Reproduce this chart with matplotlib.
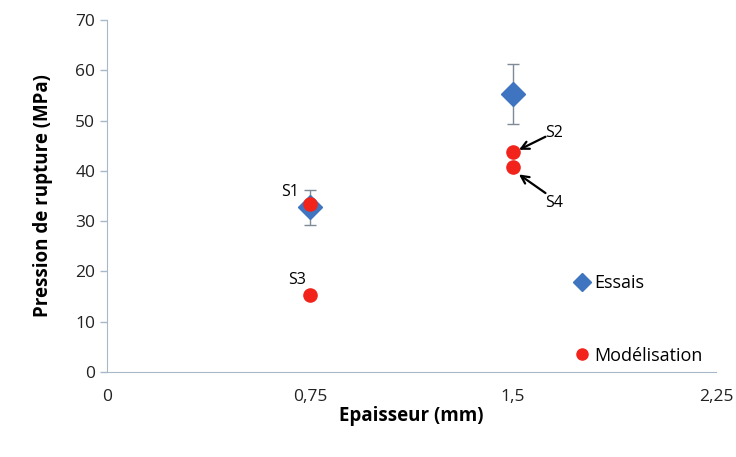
import matplotlib
matplotlib.use("Agg")
import matplotlib.pyplot as plt
from matplotlib.lines import Line2D

# Data
essais_x = [0.75, 1.5]
essais_y = [32.8, 55.3]
essais_err = [3.5, 6.0]

model_x = [0.75, 1.5, 0.75, 1.5]
model_y = [33.4, 43.7, 15.4, 40.8]
model_labels = ["S1", "S2", "S3", "S4"]

x_ticks = [0, 0.75, 1.5, 2.25]
x_ticklabels = ["0", "0,75", "1,5", "2,25"]
y_ticks = [0, 10, 20, 30, 40, 50, 60, 70]

plt.rcParams["font.family"] = ["Open Sans", "DejaVu Sans"]

fig = plt.figure(figsize=(7.36, 4.57), dpi=100)
ax = fig.add_axes([0.1454, 0.186, 0.8274, 0.770])

blue = "#3f74c0"
red = "#f2231b"
axis_col = "#a8b8c8"

ax.errorbar(essais_x, essais_y, yerr=essais_err, fmt="D", color=blue,
            markersize=12, ecolor="#7f8a96", elinewidth=1, capsize=4,
            capthick=1, zorder=3)
ax.scatter(model_x, model_y, s=90, color=red, zorder=4)

# S-labels
ax.text(0.75 - 0.04, 34.3, "S1", fontsize=11.5, ha="right", va="bottom")
ax.text(0.75 - 0.015, 16.8, "S3", fontsize=11.5, ha="right", va="bottom")
ax.text(1.62, 47.6, "S2", fontsize=11.5, ha="left", va="center")
ax.text(1.62, 33.6, "S4", fontsize=11.5, ha="left", va="center")
ax.annotate("", xy=(1.522, 44.2), xytext=(1.62, 46.8),
            arrowprops=dict(arrowstyle="->", color="black", lw=1.6,
                            shrinkA=0, shrinkB=0, mutation_scale=14))
ax.annotate("", xy=(1.522, 39.3), xytext=(1.62, 35.6),
            arrowprops=dict(arrowstyle="->", color="black", lw=1.6,
                            shrinkA=0, shrinkB=0, mutation_scale=14))

ax.set_xlim(0, 2.25)
ax.set_ylim(0, 70)
ax.set_xticks(x_ticks)
ax.set_xticklabels(x_ticklabels)
ax.set_yticks(y_ticks)
ax.tick_params(labelsize=12.5, colors="#222222", length=5, width=1)
ax.tick_params(axis="both", color=axis_col)
ax.tick_params(axis="x", length=0, pad=12)

for side in ["top", "right"]:
    ax.spines[side].set_visible(False)
for side in ["left", "bottom"]:
    ax.spines[side].set_color(axis_col)

ax.set_xlabel("Epaisseur (mm)", fontsize=13.5, fontweight="bold", labelpad=1)
ax.set_ylabel("Pression de rupture (MPa)", fontsize=13.5, fontweight="bold", labelpad=16)

handles = [
    Line2D([], [], marker="D", color=blue, linestyle="none", markersize=9),
    Line2D([], [], marker="o", color=red, linestyle="none", markersize=8),
]
leg = ax.legend(handles, ["Essais", "Modélisation"], loc="lower left",
                bbox_to_anchor=(0.735, -0.025), frameon=False, fontsize=13,
                labelspacing=3.0, handletextpad=0.1, handlelength=1.2)

fig.savefig("out.png", dpi=100)
